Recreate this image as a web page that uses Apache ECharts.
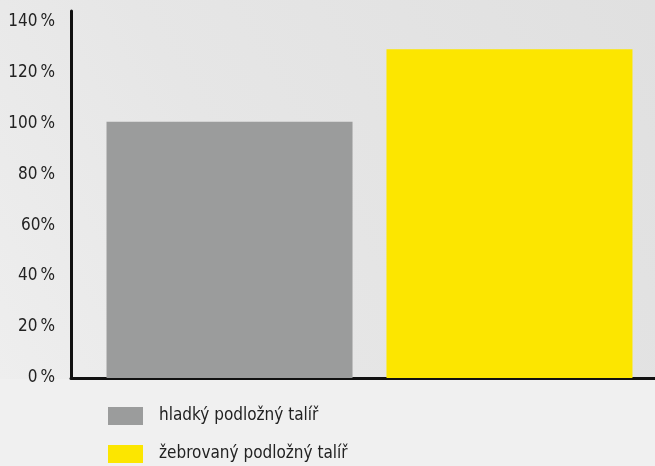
<!DOCTYPE html>
<html>
<head>
<meta charset="utf-8">
<script src="https://cdn.jsdelivr.net/npm/echarts@6/dist/echarts.min.js"></script>
<style>
  html, body { margin: 0; padding: 0; background: #f0f0f0; }
  #chart { width: 655px; height: 466px; }
</style>
</head>
<body>
<div id="chart"></div>
<script>
// data
var seriesNames = ['hladký podložný talíř', 'žebrovaný podložný talíř']
var seriesValues = [100.5, 129]
var seriesColors = ['#9b9c9c', '#fce600']
var yTickValues = [0, 20, 40, 60, 80, 100, 120, 140]
var yTickLabels = ['0\u2009%', '20\u2009%', '40\u2009%', '60%', '80\u2009%', '100\u2009%', '120\u2009%', '140\u2009%']

var chart = echarts.init(document.getElementById('chart'))

var series = seriesNames.map(function(name, i) {
  return {
    name: name,
    type: 'bar',
    data: [seriesValues[i]],
    barWidth: 246,
    barGap: '13.8%',
    itemStyle: { color: seriesColors[i] },
    emphasis: { disabled: true }
  }
})

chart.setOption({
  backgroundColor: '#f0f0f0',
  animation: false,
  textStyle: { fontFamily: 'DejaVu Sans Condensed' },
  // textured backdrop behind the plot, lighter towards bottom left
  graphic: [{
    type: 'rect',
    z: -10,
    silent: true,
    shape: { x: 0, y: 0, width: 655, height: 379 },
    style: {
      fill: new echarts.graphic.LinearGradient(1, 0, 0, 1, [
        { offset: 0, color: '#e0e0e0' },
        { offset: 0.6, color: '#e6e6e6' },
        { offset: 1, color: '#eeeeee' }
      ])
    }
  }],
  grid: { left: 71, width: 597, top: 11, bottom: 88, outerBoundsMode: 'none' },
  legend: {
    orient: 'vertical',
    left: 108,
    top: 407,
    padding: 0,
    itemWidth: 35,
    itemHeight: 18,
    itemGap: 20,
    icon: 'rect',
    selectedMode: false,
    textStyle: { fontSize: 17, color: '#222', padding: [0, 0, 0, 11] },
    data: seriesNames
  },
  xAxis: {
    type: 'category',
    data: [''],
    axisLine: { lineStyle: { color: '#111', width: 3 } },
    axisTick: { show: false },
    axisLabel: { show: false }
  },
  yAxis: {
    type: 'value',
    min: 0,
    max: 144,
    interval: 20,
    splitLine: { show: false },
    axisTick: { show: false },
    axisLine: { show: true, lineStyle: { color: '#111', width: 3 } },
    axisLabel: {
      color: '#222',
      fontSize: 17,
      margin: 16,
      formatter: function(v) {
        var idx = yTickValues.indexOf(v)
        return idx >= 0 ? yTickLabels[idx] : ''
      }
    }
  },
  series: series
})
</script>
</body>
</html>
